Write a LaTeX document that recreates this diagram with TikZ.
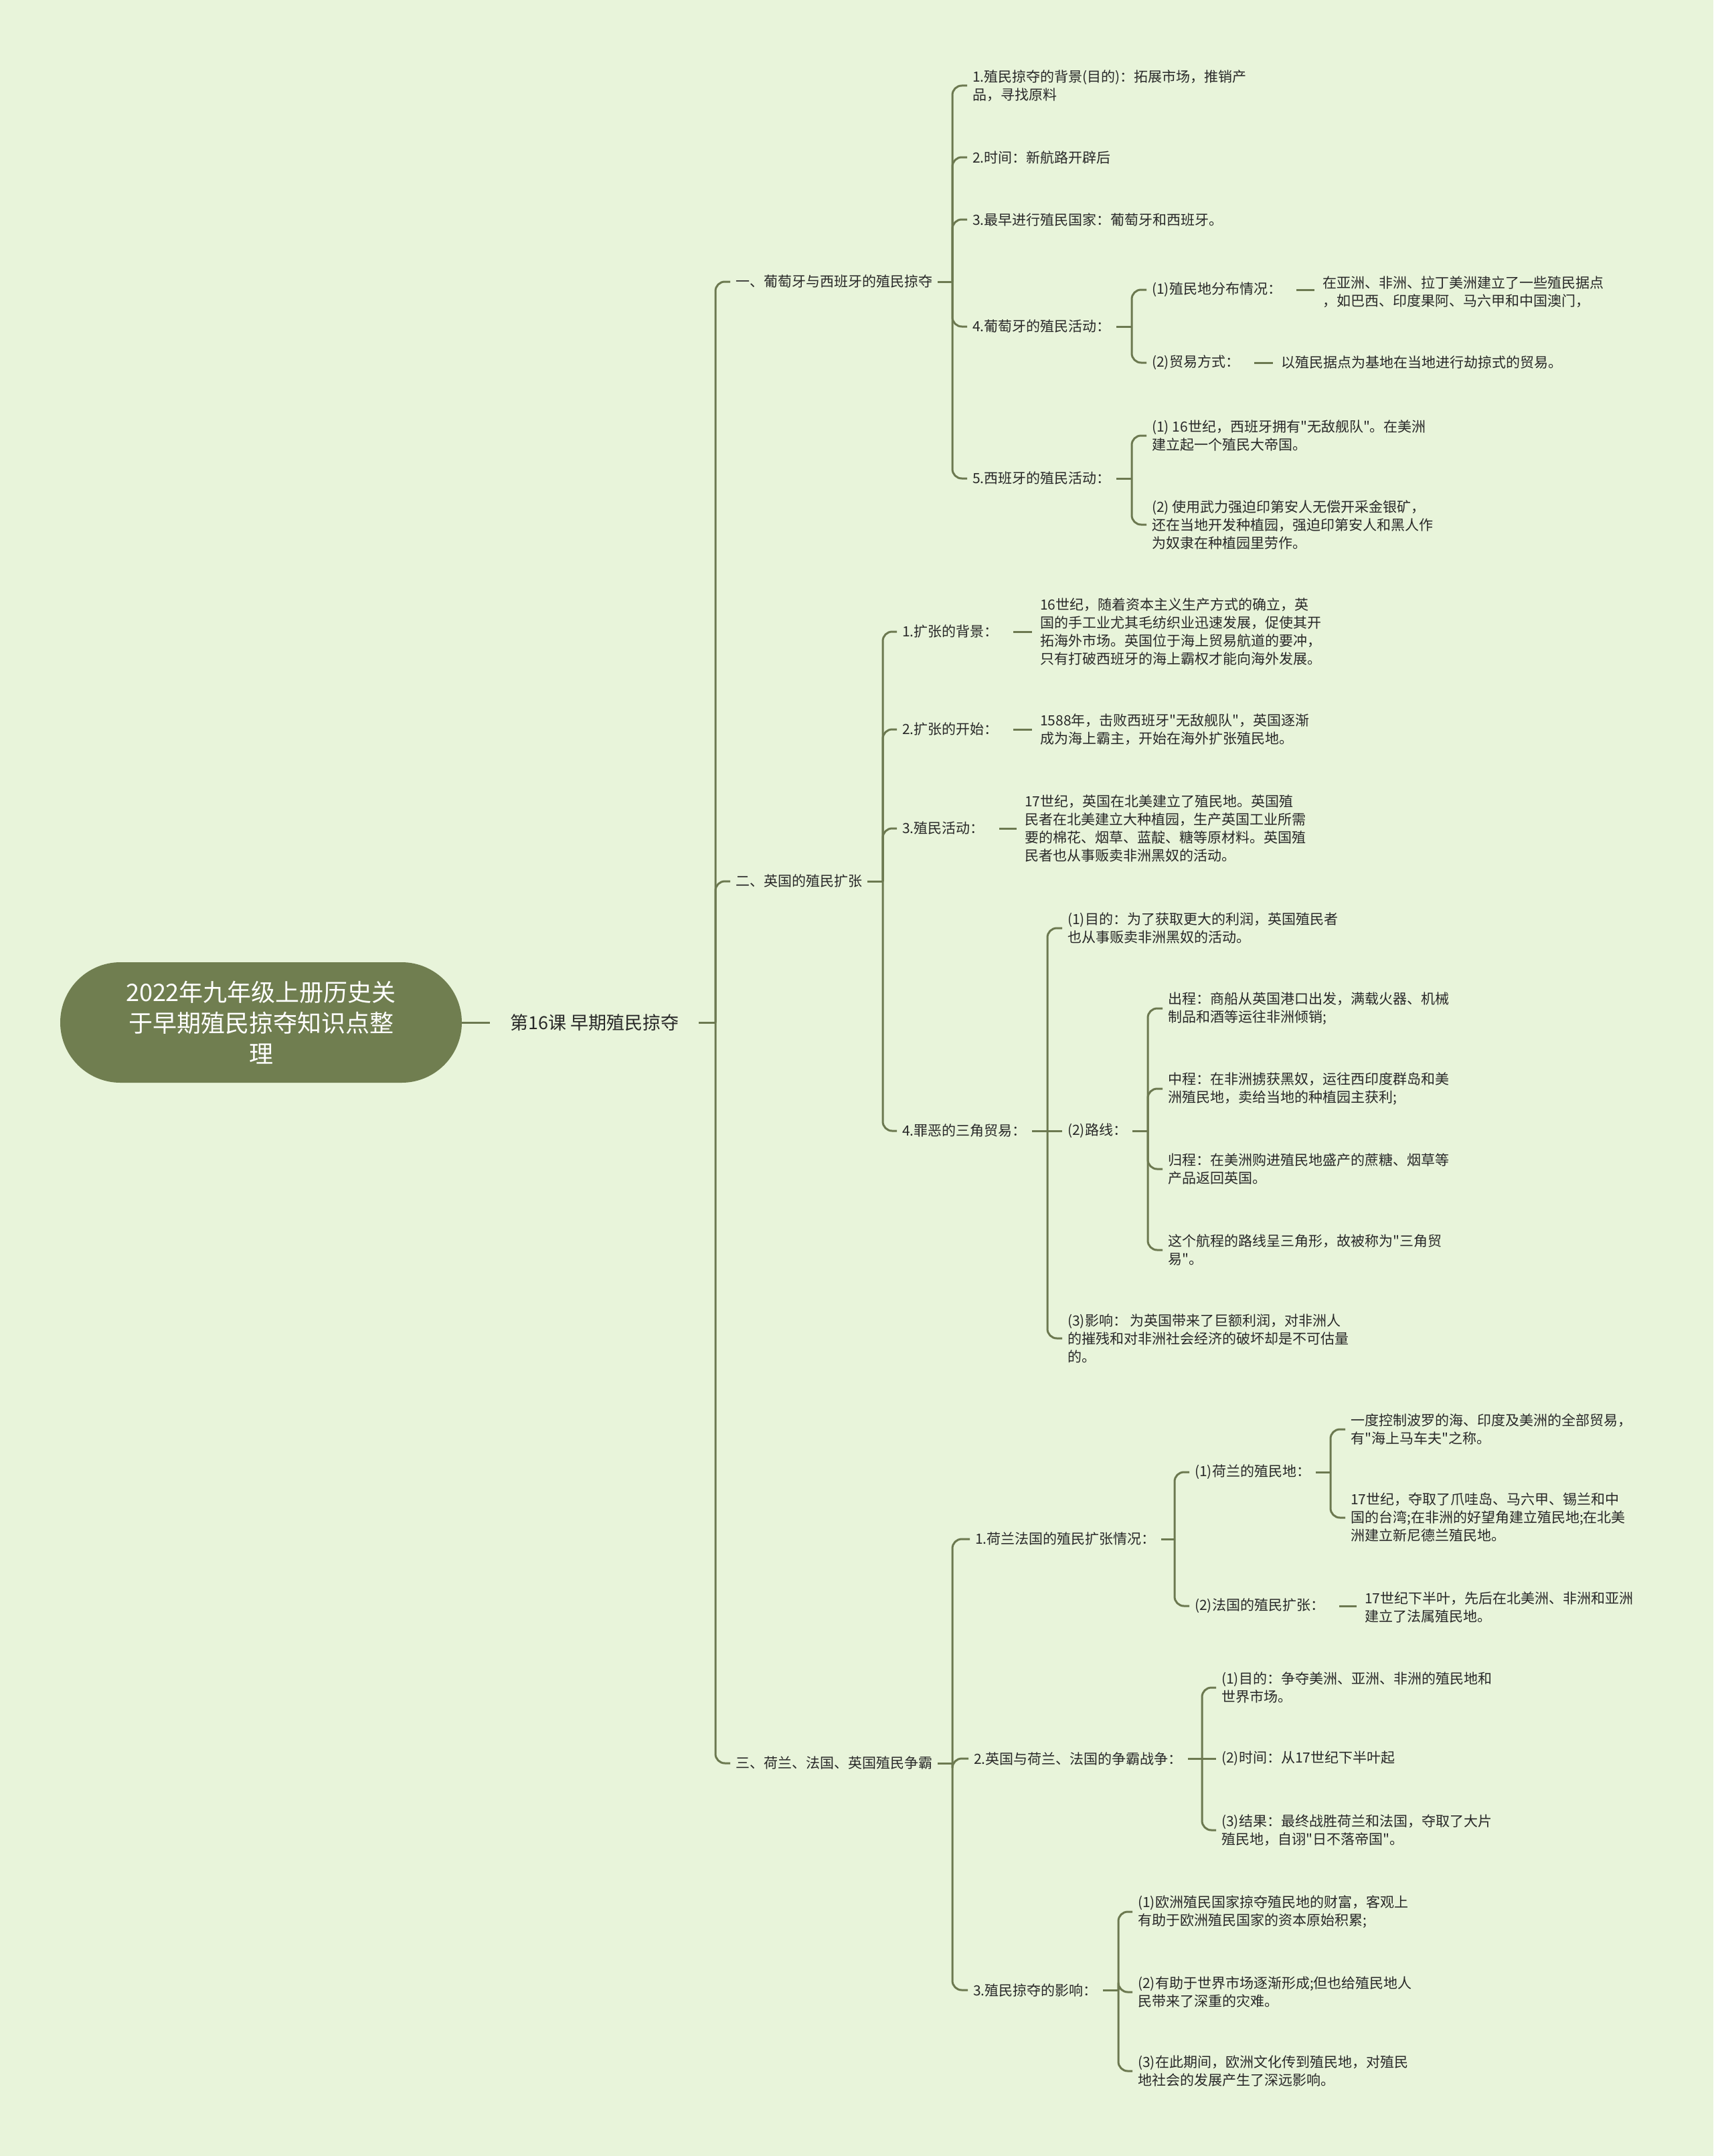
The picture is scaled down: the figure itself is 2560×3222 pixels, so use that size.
\documentclass[tikz,border=0pt]{standalone}
\usepackage{fontspec}
\setmainfont{Noto Sans CJK SC}[Ligatures=TeXOff]
\usetikzlibrary{calc}
\definecolor{bgc}{RGB}{232,244,218}
\definecolor{rootc}{RGB}{112,126,80}
\definecolor{linec}{RGB}{108,121,80}
\definecolor{txtc}{RGB}{40,40,40}
\tikzset{
  root/.style={fill=rootc, text=white, rounded corners=90pt, minimum width=600pt, minimum height=180pt, align=center, font=\fontsize{36}{46}\selectfont},
  lesson/.style={anchor=west, inner xsep=30pt, text=txtc, font=\fontsize{27}{32}\selectfont},
  topic/.style={anchor=west, inner xsep=8pt, inner ysep=2pt, align=left, text=txtc, font=\fontsize{21}{27}\selectfont},
  link/.style={draw=linec, line width=3pt, rounded corners=14pt},
  lead/.style={link, shorten <=14pt, shorten >=4pt},
}
\begin{document}
\begin{tikzpicture}[x=1pt, y=-1pt]
\fill[bgc] (0,0) rectangle (2560,3222);
\useasboundingbox (0,0) rectangle (2560,3222);

% root and lesson
\node[root] (root) at (390,1528) {2022年九年级上册历史关\\于早期殖民掠夺知识点整\\理};
\node[lesson] (lesson) at (732,1528) {第16课 早期殖民掠夺};
\draw[link] (root) -- (lesson);

% three parts
\node[topic] (A) at (1091,421) {一、葡萄牙与西班牙的殖民掠夺};
\node[topic] (B) at (1091,1317) {二、英国的殖民扩张};
\node[topic] (C) at (1091,2635) {三、荷兰、法国、英国殖民争霸};
\coordinate (jL) at ($(lesson.east -| A.west)+(-22,0)$);
\draw[link] (lesson.east) -- (jL);
\foreach \c in {A,B,C} \draw[link] (jL) |- (\c.west);

% part one
\node[topic] (A1) at (1445,128) {1.殖民掠夺的背景(目的)：拓展市场，推销产\\品，寻找原料};
\node[topic] (A2) at (1445,235) {2.时间：新航路开辟后};
\node[topic] (A3) at (1445,328) {3.最早进行殖民国家：葡萄牙和西班牙。};
\node[topic] (A4) at (1445,488) {4.葡萄牙的殖民活动：};
\node[topic] (A5) at (1445,715) {5.西班牙的殖民活动：};
\coordinate (jA) at ($(A.east -| A1.west)+(-22,0)$);
\draw[link] (A.east) -- (jA);
\foreach \c in {A1,A2,A3,A4,A5} \draw[link] (jA) |- (\c.west);

\node[topic] (A4a) at (1713,433) {(1)殖民地分布情况：};
\node[topic] (A4b) at (1713,542) {(2)贸易方式：};
\coordinate (jA4) at ($(A4.east -| A4a.west)+(-22,0)$);
\draw[link] (A4.east) -- (jA4);
\foreach \c in {A4a,A4b} \draw[link] (jA4) |- (\c.west);
\node[topic] (A4a1) at (1968,436) {在亚洲、非洲、拉丁美洲建立了一些殖民据点\\，如巴西、印度果阿、马六甲和中国澳门，};
\draw[lead] (A4a.east) -- (A4a.east -| A4a1.west);
\node[topic] (A4b1) at (1906,542) {以殖民据点为基地在当地进行劫掠式的贸易。};
\draw[lead] (A4b.east) -- (A4b1.west);

\node[topic] (A5a) at (1713,651) {(1) 16世纪，西班牙拥有"无敌舰队"。在美洲\\建立起一个殖民大帝国。};
\node[topic] (A5b) at (1713,784) {(2) 使用武力强迫印第安人无偿开采金银矿，\\还在当地开发种植园，强迫印第安人和黑人作\\为奴隶在种植园里劳作。};
\coordinate (jA5) at ($(A5.east -| A5a.west)+(-22,0)$);
\draw[link] (A5.east) -- (jA5);
\foreach \c in {A5a,A5b} \draw[link] (jA5) |- (\c.west);

% part two
\node[topic] (B1) at (1340,944) {1.扩张的背景：};
\node[topic] (B2) at (1340,1090) {2.扩张的开始：};
\node[topic] (B3) at (1340,1238) {3.殖民活动：};
\node[topic] (B4) at (1340,1690) {4.罪恶的三角贸易：};
\coordinate (jB) at ($(B.east -| B1.west)+(-21,0)$);
\draw[link] (B.east) -- (jB);
\foreach \c in {B1,B2,B3,B4} \draw[link] (jB) |- (\c.west);

\node[topic] (B1c) at (1546,944) {16世纪，随着资本主义生产方式的确立，英\\国的手工业尤其毛纺织业迅速发展，促使其开\\拓海外市场。英国位于海上贸易航道的要冲，\\只有打破西班牙的海上霸权才能向海外发展。};
\draw[lead] (B1.east) -- (B1.east -| B1c.west);
\node[topic] (B2c) at (1546,1090) {1588年，击败西班牙"无敌舰队"，英国逐渐\\成为海上霸主，开始在海外扩张殖民地。};
\draw[lead] (B2.east) -- (B2.east -| B2c.west);
\node[topic] (B3c) at (1523,1238) {17世纪，英国在北美建立了殖民地。英国殖\\民者在北美建立大种植园，生产英国工业所需\\要的棉花、烟草、蓝靛、糖等原材料。英国殖\\民者也从事贩卖非洲黑奴的活动。};
\draw[lead] (B3.east) -- (B3.east -| B3c.west);

\node[topic] (B4a) at (1587,1387) {(1)目的：为了获取更大的利润，英国殖民者\\也从事贩卖非洲黑奴的活动。};
\node[topic] (B4b) at (1587,1690) {(2)路线：};
\node[topic] (B4c) at (1587,2000) {(3)影响： 为英国带来了巨额利润，对非洲人\\的摧残和对非洲社会经济的破坏却是不可估量\\的。};
\coordinate (jB4) at ($(B4.east -| B4a.west)+(-22,0)$);
\draw[link] (B4.east) -- (B4b.west);
\foreach \c in {B4a,B4c} \draw[link] (jB4) |- (\c.west);

\node[topic] (B4b1) at (1737,1507) {出程：商船从英国港口出发，满载火器、机械\\制品和酒等运往非洲倾销;};
\node[topic] (B4b2) at (1737,1627) {中程：在非洲掳获黑奴，运往西印度群岛和美\\洲殖民地，卖给当地的种植园主获利;};
\node[topic] (B4b3) at (1737,1747) {归程：在美洲购进殖民地盛产的蔗糖、烟草等\\产品返回英国。};
\node[topic] (B4b4) at (1737,1868) {这个航程的路线呈三角形，故被称为"三角贸\\易"。};
\coordinate (jB4b) at ($(B4b.east -| B4b1.west)+(-22,0)$);
\draw[link] (B4b.east) -- (jB4b);
\foreach \c in {B4b1,B4b2,B4b3,B4b4} \draw[link] (jB4b) |- (\c.west);

% part three
\node[topic] (C1) at (1449,2300) {1.荷兰法国的殖民扩张情况：};
\node[topic] (C2) at (1447,2628) {2.英国与荷兰、法国的争霸战争：};
\node[topic] (C3) at (1446,2974) {3.殖民掠夺的影响：};
\coordinate (jC) at ($(C.east -| C1.west)+(-26,0)$);
\draw[link] (C.east) -- (jC);
\foreach \c in {C1,C2,C3} \draw[link] (jC) |- (\c.west);

\node[topic] (C1a) at (1777,2200) {(1)荷兰的殖民地：};
\node[topic] (C1b) at (1777,2400) {(2)法国的殖民扩张：};
\coordinate (jC1) at ($(C1.east -| C1a.west)+(-22,0)$);
\draw[link] (C1.east) -- (jC1);
\foreach \c in {C1a,C1b} \draw[link] (jC1) |- (\c.west);

\node[topic] (C1a1) at (2010,2136) {一度控制波罗的海、印度及美洲的全部贸易，\\有"海上马车夫"之称。};
\node[topic] (C1a2) at (2010,2268) {17世纪，夺取了爪哇岛、马六甲、锡兰和中\\国的台湾;在非洲的好望角建立殖民地;在北美\\洲建立新尼德兰殖民地。};
\coordinate (jC1a) at ($(C1a.east -| C1a1.west)+(-22,0)$);
\draw[link] (C1a.east) -- (jC1a);
\foreach \c in {C1a1,C1a2} \draw[link] (jC1a) |- (\c.west);

\node[topic] (C1b1) at (2031,2402) {17世纪下半叶，先后在北美洲、非洲和亚洲\\建立了法属殖民地。};
\draw[lead] (C1b.east) -- (C1b.east -| C1b1.west);

\node[topic] (C2a) at (1817,2522) {(1)目的：争夺美洲、亚洲、非洲的殖民地和\\世界市场。};
\node[topic] (C2b) at (1817,2628) {(2)时间：从17世纪下半叶起};
\node[topic] (C2c) at (1817,2735) {(3)结果：最终战胜荷兰和法国，夺取了大片\\殖民地，自诩"日不落帝国"。};
\coordinate (jC2) at ($(C2.east -| C2a.west)+(-21,0)$);
\draw[link] (C2.east) -- (C2b.west);
\foreach \c in {C2a,C2c} \draw[link] (jC2) |- (\c.west);

\node[topic] (C3a) at (1692,2857) {(1)欧洲殖民国家掠夺殖民地的财富，客观上\\有助于欧洲殖民国家的资本原始积累;};
\node[topic] (C3b) at (1692,2977) {(2)有助于世界市场逐渐形成;但也给殖民地人\\民带来了深重的灾难。};
\node[topic] (C3c) at (1692,3095) {(3)在此期间，欧洲文化传到殖民地，对殖民\\地社会的发展产生了深远影响。};
\coordinate (jC3) at ($(C3.east -| C3a.west)+(-21,0)$);
\draw[link] (C3.east) -- (jC3);
\foreach \c in {C3a,C3b,C3c} \draw[link] (jC3) |- (\c.west);
\end{tikzpicture}
\end{document}
